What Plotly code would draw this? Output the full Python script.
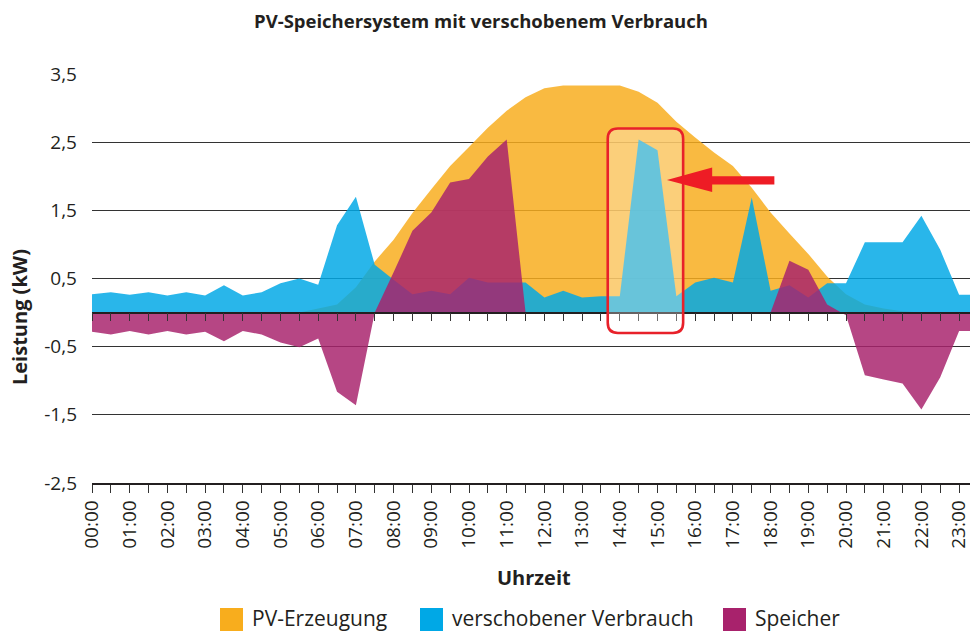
import plotly.graph_objects as go

# --- data (half-hour steps) ---
zeit = ["00:00", "00:30", "01:00", "01:30", "02:00", "02:30", "03:00", "03:30",
        "04:00", "04:30", "05:00", "05:30", "06:00", "06:30", "07:00", "07:30",
        "08:00", "08:30", "09:00", "09:30", "10:00", "10:30", "11:00", "11:30",
        "12:00", "12:30", "13:00", "13:30", "14:00", "14:30", "15:00", "15:30",
        "16:00", "16:30", "17:00", "17:30", "18:00", "18:30", "19:00", "19:30",
        "20:00", "20:30", "21:00", "21:30", "22:00", "22:30", "23:00", "23:30"]

pv_erzeugung = [0, 0, 0, 0, 0, 0, 0, 0,
                0, 0, 0, 0, 0.06, 0.12, 0.37, 0.75,
                1.07, 1.46, 1.81, 2.15, 2.43, 2.71, 2.96, 3.16,
                3.29, 3.33, 3.33, 3.33, 3.33, 3.24, 3.08, 2.8,
                2.57, 2.35, 2.15, 1.83, 1.47, 1.16, 0.86, 0.53,
                0.27, 0.12, 0.06, 0.02, 0, 0, 0, 0]

verschobener_verbrauch = [0.27, 0.3, 0.26, 0.3, 0.25, 0.3, 0.25, 0.4,
                          0.25, 0.3, 0.43, 0.5, 0.41, 1.28, 1.7, 0.7,
                          0.48, 0.27, 0.32, 0.27, 0.51, 0.44, 0.44, 0.44,
                          0.22, 0.32, 0.22, 0.24, 0.24, 2.54, 2.38, 0.24,
                          0.44, 0.51, 0.44, 1.69, 0.32, 0.4, 0.22, 0.43,
                          0.43, 1.03, 1.03, 1.03, 1.42, 0.92, 0.26, 0.26]

speicher = [-0.28, -0.32, -0.27, -0.32, -0.27, -0.32, -0.28, -0.42,
            -0.27, -0.32, -0.44, -0.51, -0.38, -1.16, -1.36, 0,
            0.59, 1.2, 1.47, 1.91, 1.96, 2.29, 2.54, 0,
            0, 0, 0, 0, 0, 0, 0, 0,
            0, 0, 0, 0, 0, 0.76, 0.63, 0.12,
            -0.04, -0.92, -0.98, -1.04, -1.42, -0.95, -0.27, -0.27]

y_ticks = [3.5, 2.5, 1.5, 0.5, -0.5, -1.5, -2.5]
y_ticktext = ["3,5", "2,5", "1,5", "0,5", "-0,5", "-1,5", "-2,5"]

serien = ["PV-Erzeugung", "verschobener Verbrauch", "Speicher"]
farben = ["#F8AD1D", "#00A8E6", "#A8226C"]

# numeric hours from the time labels
stunden = [int(t[:2]) + int(t[3:]) / 60 for t in zeit]
tick_vals = stunden
tick_text = [t if t.endswith(":00") else "" for t in zeit]

TXT = "#231f20"
FONT = "Open Sans"

W, H = 970, 632
PL, PT, PB = 92, 74, 483          # plot area in window pixels
PR = 970
PW, PH = PR - PL, PB - PT


def px(xw):
    return (xw - PL) / PW


def py(yw):
    return (PB - yw) / PH


def rgba(hexcol, a):
    h = hexcol.lstrip("#")
    r, g, b = int(h[0:2], 16), int(h[2:4], 16), int(h[4:6], 16)
    return f"rgba({r},{g},{b},{a})"


fig = go.Figure()
for name, vals, col, xa in zip(serien, [pv_erzeugung, verschobener_verbrauch, speicher],
                               farben, ["x", "x", "x2"]):
    fig.add_trace(go.Scatter(
        x=stunden, y=vals, name=name, mode="none", fill="tozeroy",
        fillcolor=rgba(col, 0.84), xaxis=xa, yaxis="y", showlegend=False,
        hoverinfo="x+y+name"))

x_max = PW / 37.7

fig.update_layout(
    width=W, height=H,
    margin=dict(l=PL, r=W - PR, t=PT, b=H - PB, autoexpand=False),
    paper_bgcolor="white", plot_bgcolor="white",
    font=dict(family=FONT, color=TXT, size=19),
    title=dict(text="<b>PV-Speichersystem mit verschobenem Verbrauch</b>",
               x=481 / W, xanchor="center",
               y=1 - 22 / H, yanchor="middle", yref="container", xref="container",
               font=dict(size=18.5, family=FONT, color=TXT)),
    xaxis=dict(range=[0, x_max], tickmode="array", tickvals=tick_vals, ticktext=tick_text,
               tickangle=-90, ticks="outside", ticklen=8, tickwidth=1.2, tickcolor="#333",
               ticklabeloverflow="allow",
               showline=True, linecolor=TXT, linewidth=1.5, showgrid=False, zeroline=False,
               tickfont=dict(size=19, family=FONT, color=TXT)),
    xaxis2=dict(range=[0, x_max], matches="x", overlaying="x", anchor="free",
                position=2.5 / 6, side="bottom", tickmode="array", tickvals=tick_vals,
                showticklabels=False, ticks="outside", ticklen=8, tickwidth=1.2,
                tickcolor="#333", showline=True, linecolor=TXT, linewidth=1.5,
                showgrid=False, zeroline=False),
    yaxis=dict(range=[-2.5, 3.5], tickmode="array", tickvals=y_ticks, ticktext=y_ticktext,
               showgrid=True, gridcolor="#333333", gridwidth=1.4, zeroline=False,
               ticks="", ticklabelstandoff=14,
               tickfont=dict(size=19, family=FONT, color=TXT)),
    showlegend=False,
)

# axis titles
fig.add_annotation(text="<b>Uhrzeit</b>", xref="paper", yref="paper", x=px(534), y=py(577),
                   showarrow=False, font=dict(size=20, family=FONT, color=TXT),
                   xanchor="center", yanchor="middle")
fig.add_annotation(text="<b>Leistung (kW)</b>", xref="paper", yref="paper",
                   x=px(19), y=py(317), textangle=-90,
                   showarrow=False, font=dict(size=20, family=FONT, color=TXT),
                   xanchor="center", yanchor="middle", borderpad=0)

# highlight box (rounded rectangle) and arrow
x0, x1, y0, y1 = 13.68, 15.68, -0.30, 2.70
rx, ry = 0.27, 0.15
box = (f"M{x0+rx},{y1} L{x1-rx},{y1} Q{x1},{y1} {x1},{y1-ry} L{x1},{y0+ry} "
       f"Q{x1},{y0} {x1-rx},{y0} L{x0+rx},{y0} Q{x0},{y0} {x0},{y0+ry} "
       f"L{x0},{y1-ry} Q{x0},{y1} {x0+rx},{y1} Z")
fig.add_shape(type="path", path=box, xref="x", yref="y", layer="above",
              fillcolor="rgba(255,255,255,0.3)", line=dict(color="#E8212A", width=2.6))
arrow = ("M15.25,1.945 L16.45,2.127 L16.45,2.0 L18.1,2.0 L18.1,1.88 "
         "L16.45,1.88 L16.45,1.77 Z")
fig.add_shape(type="path", path=arrow, xref="x", yref="y", layer="above",
              fillcolor="#EE1C25", line=dict(width=0))

# legend (squares + labels) along the bottom
legend_x = [220, 420, 723]
for name, col, lx in zip(serien, farben, legend_x):
    fig.add_shape(type="rect", xref="paper", yref="paper",
                  x0=px(lx), x1=px(lx + 23),
                  y0=py(631), y1=py(608),
                  fillcolor=col, line=dict(width=0))
    fig.add_annotation(text=name, xref="paper", yref="paper",
                       x=px(lx + 31), y=py(618),
                       xanchor="left", yanchor="middle", showarrow=False,
                       font=dict(size=21, family=FONT, color=TXT), borderpad=0)

# the page is exactly the window size: drop the default body margin
fig.write_html("out.html",
               config={"displayModeBar": False},
               post_script="document.body.style.margin='0';"
                           "document.documentElement.style.overflow='hidden';"
                           "document.body.style.overflow='hidden';")
